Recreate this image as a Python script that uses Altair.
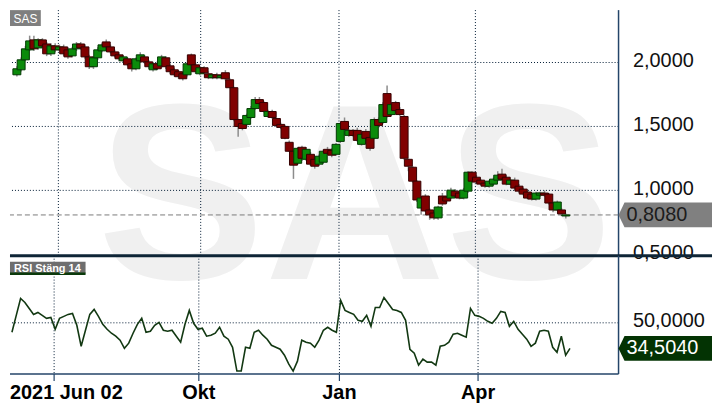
import altair as alt
import pandas as pd

# ---------------- data ----------------
day = list(range(0, 260, 2))  # trading-day index of each candle

opens = [1.904, 1.943, 2.021, 2.099, 2.177, 2.114, 2.177, 2.145, 2.068, 2.130,
         2.099, 2.122, 2.099, 2.052, 2.107, 2.145, 2.122, 2.044, 1.967, 2.037,
         2.091, 2.161, 2.122, 2.083, 2.060, 2.013, 2.029, 1.990, 1.951, 2.013,
         2.044, 2.005, 1.943, 1.990, 1.974, 2.037, 1.974, 1.943, 1.928, 1.912,
         1.904, 2.060, 1.982, 1.912, 1.959, 1.912, 1.881, 1.904, 1.881, 1.920,
         1.865, 1.803, 1.554, 1.523, 1.516, 1.570, 1.640, 1.710, 1.687, 1.578,
         1.617, 1.562, 1.516, 1.500, 1.376, 1.306, 1.212, 1.337, 1.243, 1.282,
         1.243, 1.205, 1.220, 1.321, 1.313, 1.282, 1.383, 1.539, 1.430, 1.469,
         1.469, 1.360, 1.461, 1.414, 1.407, 1.554, 1.531, 1.757, 1.593, 1.687,
         1.632, 1.578, 1.243, 1.181, 1.072, 0.862, 0.956, 0.847, 0.823, 0.785,
         0.956, 0.948, 0.940, 0.994, 0.979, 0.940, 0.994, 1.142, 1.103, 1.080,
         1.057, 1.033, 1.049, 1.080, 1.127, 1.103, 1.049, 1.080, 1.033, 1.010,
         0.987, 0.971, 0.932, 0.963, 0.979, 0.971, 0.901, 0.847, 0.847, 0.800]

closes = [1.951, 2.021, 2.107, 2.169, 2.107, 2.177, 2.130, 2.068, 2.130, 2.099,
          2.122, 2.068, 2.044, 2.107, 2.145, 2.114, 2.044, 1.967, 2.037, 2.099,
          2.138, 2.122, 2.083, 2.052, 2.029, 2.044, 1.982, 1.951, 2.029, 2.060,
          2.005, 1.967, 1.990, 1.951, 2.044, 1.967, 1.928, 1.904, 1.889, 1.873,
          1.990, 1.982, 1.928, 1.959, 1.920, 1.881, 1.904, 1.881, 1.897, 1.873,
          1.803, 1.554, 1.500, 1.484, 1.586, 1.640, 1.710, 1.679, 1.617, 1.617,
          1.570, 1.508, 1.492, 1.407, 1.306, 1.197, 1.329, 1.251, 1.321, 1.205,
          1.189, 1.267, 1.306, 1.290, 1.275, 1.360, 1.523, 1.477, 1.469, 1.430,
          1.391, 1.438, 1.407, 1.329, 1.554, 1.508, 1.671, 1.578, 1.671, 1.624,
          1.593, 1.251, 1.189, 1.072, 0.925, 0.940, 0.839, 0.808, 0.785, 0.870,
          0.894, 0.917, 1.002, 0.956, 0.940, 1.002, 1.142, 1.072, 1.065, 1.049,
          1.033, 1.072, 1.088, 1.119, 1.088, 1.049, 1.080, 1.018, 0.994, 0.971,
          0.940, 0.932, 0.979, 0.979, 0.963, 0.901, 0.847, 0.909, 0.816, 0.808]

highs = [1.97, 2.04, 2.13, 2.21, 2.21, 2.19, 2.19, 2.16, 2.15, 2.15,
         2.14, 2.14, 2.12, 2.12, 2.16, 2.16, 2.14, 2.06, 2.05, 2.12,
         2.15, 2.18, 2.14, 2.10, 2.08, 2.06, 2.04, 2.00, 2.04, 2.08,
         2.06, 2.02, 2.00, 2.01, 2.06, 2.05, 1.99, 1.96, 1.94, 1.93,
         2.00, 2.07, 2.00, 1.97, 1.97, 1.93, 1.91, 1.92, 1.91, 1.94,
         1.88, 1.81, 1.56, 1.53, 1.60, 1.66, 1.73, 1.73, 1.70, 1.63,
         1.63, 1.57, 1.53, 1.51, 1.39, 1.31, 1.34, 1.35, 1.34, 1.30,
         1.26, 1.28, 1.32, 1.34, 1.33, 1.37, 1.53, 1.57, 1.48, 1.48,
         1.49, 1.45, 1.48, 1.43, 1.57, 1.57, 1.69, 1.82, 1.69, 1.70,
         1.65, 1.59, 1.25, 1.19, 1.08, 0.95, 0.97, 0.86, 0.84, 0.88,
         0.98, 0.96, 1.02, 1.01, 0.99, 1.02, 1.15, 1.15, 1.12, 1.09,
         1.07, 1.08, 1.10, 1.15, 1.17, 1.12, 1.09, 1.10, 1.05, 1.02,
         1.00, 0.98, 0.99, 0.99, 1.00, 0.98, 0.91, 0.92, 0.86, 0.82]

lows = [1.89, 1.93, 2.01, 2.09, 2.09, 2.10, 2.12, 2.05, 2.05, 2.08,
        2.09, 2.05, 2.03, 2.04, 2.09, 2.10, 2.03, 1.95, 1.95, 2.02,
        2.08, 2.11, 2.07, 2.04, 2.01, 2.00, 1.97, 1.93, 1.94, 2.00,
        1.99, 1.95, 1.93, 1.94, 1.96, 1.95, 1.91, 1.89, 1.87, 1.86,
        1.89, 1.97, 1.91, 1.90, 1.91, 1.87, 1.87, 1.87, 1.87, 1.86,
        1.80, 1.54, 1.42, 1.47, 1.50, 1.56, 1.63, 1.67, 1.61, 1.57,
        1.56, 1.50, 1.48, 1.40, 1.30, 1.09, 1.20, 1.23, 1.23, 1.19,
        1.17, 1.19, 1.21, 1.28, 1.26, 1.27, 1.37, 1.47, 1.42, 1.42,
        1.38, 1.35, 1.39, 1.31, 1.40, 1.49, 1.52, 1.57, 1.58, 1.61,
        1.58, 1.24, 1.15, 1.06, 0.91, 0.81, 0.83, 0.77, 0.77, 0.77,
        0.88, 0.90, 0.93, 0.94, 0.93, 0.93, 0.98, 1.06, 1.05, 1.04,
        1.02, 1.02, 1.04, 1.07, 1.08, 1.04, 1.04, 1.00, 0.98, 0.96,
        0.93, 0.92, 0.92, 0.95, 0.95, 0.89, 0.83, 0.84, 0.80, 0.78]

rsi = [44.3, 54.5, 64.7, 62.3, 58.7, 55.1, 56.3, 54.5, 52.7, 53.3,
       46.1, 52.7, 53.9, 55.1, 55.7, 48.5, 35.8, 45.5, 55.1, 58.1,
       53.9, 49.1, 46.1, 43.7, 41.9, 39.5, 34.6, 37.7, 43.7, 49.1,
       52.7, 44.3, 44.9, 48.5, 50.3, 45.5, 44.9, 45.5, 41.9, 38.3,
       49.1, 57.5, 49.7, 46.1, 46.7, 41.9, 42.5, 43.7, 47.3, 41.9,
       40.1, 35.2, 20.8, 20.8, 35.2, 34.6, 44.3, 45.5, 42.5, 40.1,
       36.4, 35.2, 34.0, 30.4, 25.0, 20.8, 26.8, 39.5, 38.3, 37.7,
       35.2, 39.5, 45.5, 47.3, 45.5, 44.3, 63.5, 57.5, 56.3, 55.1,
       51.5, 50.9, 54.5, 47.9, 59.3, 59.3, 65.3, 61.7, 58.1, 57.5,
       56.3, 51.5, 34.0, 31.6, 24.4, 28.0, 26.2, 26.2, 24.4, 35.8,
       36.4, 38.3, 43.1, 43.7, 42.5, 41.3, 58.7, 54.5, 53.9, 52.7,
       50.9, 49.7, 52.7, 56.9, 56.3, 47.9, 50.9, 46.1, 43.1, 40.1,
       35.8, 37.7, 44.9, 45.5, 44.9, 35.2, 32.2, 41.9, 30.4, 34.5]

last_price = [0.808]
last_price_label = ["0,8080"]
last_rsi = [34.504]
last_rsi_label = ["34,5040"]
price_ticks = [0.5, 1.0, 1.5, 2.0]
price_grid = [1.0, 1.5, 2.0]
rsi_ticks = [50]
x_tick_pos = [19.5, 86.4, 151.4, 215.5]
x_tick_labels = ["2021 Jun 02", "Okt", "Jan", "Apr"]

# ---------------- styling ----------------
FONT = "Liberation Sans"
W, H1, H2 = 612, 247, 119
TAGW = 94
GRID = "#001a33"
FRAME = "#244569"
TAG = "M-1,0L-0.872,-0.266L1,-0.266L1,0.266L-0.872,0.266Z"
DOTS = [1, 2]

df = pd.DataFrame(dict(day=day, open=opens, high=highs, low=lows,
                       close=closes, rsi=rsi))
df["dir"] = ["up" if c >= o else "down" for o, c in zip(opens, closes)]
ticks_df = pd.DataFrame({"pos": x_tick_pos, "label": x_tick_labels})
one = pd.DataFrame({"a": [0]})

xs = alt.Scale(domain=[-0.9, 280.45], nice=False, zero=False)
ys1 = alt.Scale(domain=[0.4891, 2.4098], nice=False, zero=False)
ys2 = alt.Scale(domain=[19, 90.6], nice=False, zero=False)

lab = "replace(format(datum.value, '.4f'), '.', ',')"


def axis(vals):
    return alt.Axis(orient="right", values=vals, labelExpr=lab, ticks=False,
                    domain=False, grid=False, labelFontSize=20, labelFont=FONT,
                    labelColor="#111111", labelPadding=14, title=None,
                    labelOffset=-2)


ax1 = axis(price_ticks)
ax2 = axis(rsi_ticks)
XD = alt.X("day:Q", scale=xs, axis=None)

# ---------------- top panel (price) ----------------
wm = alt.Chart(one).mark_text(text="SAS", font=FONT, fontSize=252, fontWeight="bold",
                              color="#f0f0f0", align="center",
                              baseline="alphabetic").encode(
    x=alt.value(347), y=alt.value(270))
vgrid1 = alt.Chart(ticks_df).mark_rule(color=GRID, strokeDash=DOTS, strokeWidth=1).encode(
    x=alt.X("pos:Q", scale=xs, axis=None))
hgrid1 = alt.Chart(pd.DataFrame({"p": price_grid})).mark_rule(
    color=GRID, strokeDash=DOTS, strokeWidth=1).encode(
    y=alt.Y("p:Q", scale=ys1, axis=ax1))
lastdf = pd.DataFrame({"v": last_price, "label": last_price_label})
dash = alt.Chart(lastdf).mark_rule(color="#7a7a7a", strokeDash=[5, 3], strokeWidth=1).encode(
    y=alt.Y("v:Q", scale=ys1, axis=ax1))
wick = alt.Chart(df).mark_rule(color="#8c8c8c", strokeWidth=1.5).encode(
    x=XD, y=alt.Y("low:Q", scale=ys1, axis=ax1), y2="high:Q")
body = alt.Chart(df).mark_bar(size=8, strokeWidth=1).encode(
    x=XD, y=alt.Y("open:Q", scale=ys1, axis=ax1), y2="close:Q",
    fill=alt.Fill("dir:N", scale=alt.Scale(domain=["up", "down"],
                                           range=["#0b8b0b", "#800000"]), legend=None),
    stroke=alt.Stroke("dir:N", scale=alt.Scale(domain=["up", "down"],
                                               range=["#033803", "#350000"]), legend=None))
frame1 = alt.Chart(one).mark_rule(color=FRAME, strokeWidth=1.5).encode(
    x=alt.value(W), y=alt.value(0), y2=alt.value(H1))
sep = alt.Chart(one).mark_rule(color="#0e2536", strokeWidth=3).encode(
    x=alt.value(0), x2=alt.value(W + TAGW), y=alt.value(H1))
tag1 = alt.Chart(lastdf).mark_point(shape=TAG, size=TAGW * TAGW, filled=True,
                                    color="#808080", opacity=1, strokeWidth=0).encode(
    x=alt.value(W + TAGW / 2), y=alt.Y("v:Q", scale=ys1, axis=ax1))
tagt1 = alt.Chart(lastdf).mark_text(align="left", baseline="middle", font=FONT,
                                    fontSize=20, color="#1c1c1c").encode(
    x=alt.value(W + 8), y=alt.Y("v:Q", scale=ys1, axis=ax1), text="label:N")
sasbox = alt.Chart(one).mark_rect(color="#7f7f7f").encode(
    x=alt.value(0), x2=alt.value(31), y=alt.value(0), y2=alt.value(16))
sastxt = alt.Chart(one).mark_text(text="SAS", font=FONT, fontSize=12, color="white",
                                  align="center", baseline="middle").encode(
    x=alt.value(15.5), y=alt.value(8.5))

top = alt.layer(wm, vgrid1, hgrid1, dash, wick, body, frame1, sep,
                tag1, tagt1, sasbox, sastxt).properties(width=W, height=H1)

# ---------------- bottom panel (RSI) ----------------
vgrid2 = alt.Chart(ticks_df).mark_rule(color=GRID, strokeDash=DOTS, strokeWidth=1).encode(
    x=alt.X("pos:Q", scale=xs, axis=None))
hgrid2 = alt.Chart(pd.DataFrame({"r": rsi_ticks})).mark_rule(
    color=GRID, strokeDash=DOTS, strokeWidth=1).encode(
    y=alt.Y("r:Q", scale=ys2, axis=ax2))
line = alt.Chart(df).mark_line(color="#123812", strokeWidth=1.6).encode(
    x=XD, y=alt.Y("rsi:Q", scale=ys2, axis=ax2))
frame2r = alt.Chart(one).mark_rule(color=FRAME, strokeWidth=1.5).encode(
    x=alt.value(W), y=alt.value(0), y2=alt.value(H2))
frame2b = alt.Chart(one).mark_rule(color=FRAME, strokeWidth=1.5).encode(
    x=alt.value(0), x2=alt.value(W), y=alt.value(H2))
xticks = alt.Chart(ticks_df).mark_rule(color=FRAME, strokeWidth=1.2).encode(
    x=alt.X("pos:Q", scale=xs, axis=None), y=alt.value(H2), y2=alt.value(H2 + 7))
xl_first = alt.Chart(ticks_df.iloc[:1]).mark_text(
    align="left", baseline="alphabetic", font=FONT, fontSize=20, fontWeight="bold",
    color="#000000").encode(x=alt.value(0), y=alt.value(H2 + 25), text="label:N")
xl_rest = alt.Chart(ticks_df.iloc[1:]).mark_text(
    align="center", baseline="alphabetic", font=FONT, fontSize=20, fontWeight="bold",
    color="#000000").encode(x=alt.X("pos:Q", scale=xs, axis=None),
                            y=alt.value(H2 + 25), text="label:N")
rsidf = pd.DataFrame({"v": last_rsi, "label": last_rsi_label})
tag2 = alt.Chart(rsidf).mark_point(shape=TAG, size=TAGW * TAGW, filled=True,
                                   color="#033303", opacity=1, strokeWidth=0).encode(
    x=alt.value(W + TAGW / 2), y=alt.Y("v:Q", scale=ys2, axis=ax2))
tagt2 = alt.Chart(rsidf).mark_text(align="left", baseline="middle", font=FONT,
                                   fontSize=20, color="#ffffff").encode(
    x=alt.value(W + 8), y=alt.Y("v:Q", scale=ys2, axis=ax2), text="label:N")
rsibox = alt.Chart(one).mark_rect(color="#6e6e6e").encode(
    x=alt.value(0), x2=alt.value(76), y=alt.value(6), y2=alt.value(18))
rsiline = alt.Chart(one).mark_rect(color="#0b3a0b").encode(
    x=alt.value(0), x2=alt.value(76), y=alt.value(17), y2=alt.value(19.5))
rsitxt = alt.Chart(one).mark_text(text="RSI Stäng 14", font=FONT, fontSize=11,
                                  fontWeight="bold", color="white", align="left",
                                  baseline="alphabetic").encode(
    x=alt.value(4), y=alt.value(16))

bottom = alt.layer(vgrid2, hgrid2, line, frame2r, frame2b, xticks, xl_first, xl_rest,
                   tag2, tagt2, rsibox, rsiline, rsitxt).properties(width=W, height=H2)

chart = alt.vconcat(top, bottom, spacing=0, bounds="flush").properties(
    padding=0).configure_view(stroke=None)

chart.save("out.html", embed_options={"renderer": "svg", "actions": False})
